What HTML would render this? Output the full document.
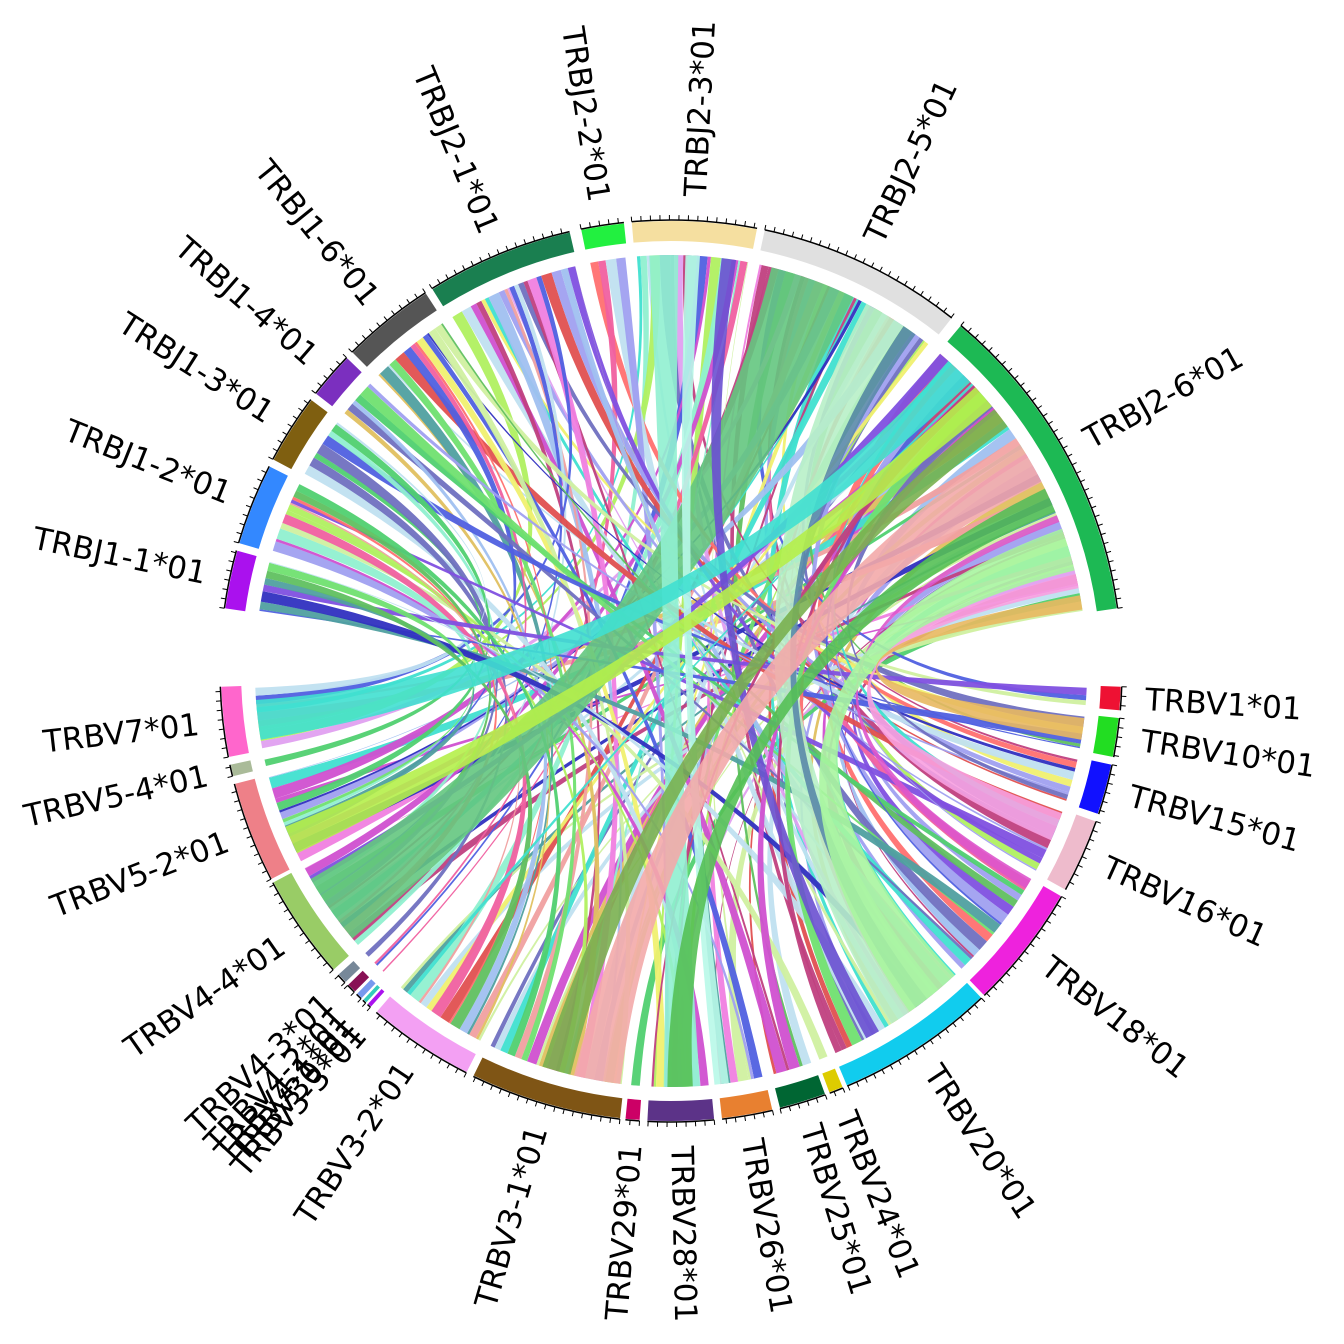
<!DOCTYPE html>
<html><head><meta charset="utf-8"><style>
html,body{margin:0;padding:0;background:#fff;}
svg{display:block;}
text{font-family:"DejaVu Sans","Liberation Sans",sans-serif;font-size:31px;fill:#000;dominant-baseline:central;}
</style></head><body>
<svg id="s" width="1344" height="1344" viewBox="0 0 1344 1344" xmlns="http://www.w3.org/2000/svg">
<g id="rib"></g><g id="seg"></g>
<g id="lab">
<text x="1146" y="671" transform="rotate(-29,671,671)">TRBJ2-6*01</text>
<text x="1146" y="671" transform="rotate(-64.75,671,671)">TRBJ2-5*01</text>
<text x="1146" y="671" transform="rotate(-87,671,671)">TRBJ2-3*01</text>
<text x="196" y="671" text-anchor="end" transform="rotate(81.25,671,671)">TRBJ2-2*01</text>
<text x="196" y="671" text-anchor="end" transform="rotate(67.5,671,671)">TRBJ2-1*01</text>
<text x="196" y="671" text-anchor="end" transform="rotate(51,671,671)">TRBJ1-6*01</text>
<text x="196" y="671" text-anchor="end" transform="rotate(41,671,671)">TRBJ1-4*01</text>
<text x="196" y="671" text-anchor="end" transform="rotate(32.5,671,671)">TRBJ1-3*01</text>
<text x="196" y="671" text-anchor="end" transform="rotate(21.75,671,671)">TRBJ1-2*01</text>
<text x="196" y="671" text-anchor="end" transform="rotate(11.75,671,671)">TRBJ1-1*01</text>
<text x="196" y="671" text-anchor="end" transform="rotate(-6.5,671,671)">TRBV7*01</text>
<text x="196" y="671" text-anchor="end" transform="rotate(-12.75,671,671)">TRBV5-4*01</text>
<text x="196" y="671" text-anchor="end" transform="rotate(-21,671,671)">TRBV5-2*01</text>
<text x="196" y="671" text-anchor="end" transform="rotate(-35,671,671)">TRBV4-4*01</text>
<text x="196" y="671" text-anchor="end" transform="rotate(-43.75,671,671)">TRBV4-3*01</text>
<text x="196" y="671" text-anchor="end" transform="rotate(-46,671,671)">TRBV4-2*01</text>
<text x="196" y="671" text-anchor="end" transform="rotate(-47.25,671,671)">TRBV4-1*01</text>
<text x="196" y="671" text-anchor="end" transform="rotate(-48.25,671,671)">TRBV30*01</text>
<text x="196" y="671" text-anchor="end" transform="rotate(-49.2,671,671)">TRBV3-3*01</text>
<text x="196" y="671" text-anchor="end" transform="rotate(-56.25,671,671)">TRBV3-2*01</text>
<text x="196" y="671" text-anchor="end" transform="rotate(-73.75,671,671)">TRBV3-1*01</text>
<text x="196" y="671" text-anchor="end" transform="rotate(-85.25,671,671)">TRBV29*01</text>
<text x="1146" y="671" transform="rotate(88.75,671,671)">TRBV28*01</text>
<text x="1146" y="671" transform="rotate(80.25,671,671)">TRBV26*01</text>
<text x="1146" y="671" transform="rotate(73,671,671)">TRBV25*01</text>
<text x="1146" y="671" transform="rotate(68.5,671,671)">TRBV24*01</text>
<text x="1146" y="671" transform="rotate(56.75,671,671)">TRBV20*01</text>
<text x="1146" y="671" transform="rotate(38,671,671)">TRBV18*01</text>
<text x="1146" y="671" transform="rotate(24.25,671,671)">TRBV16*01</text>
<text x="1146" y="671" transform="rotate(15.25,671,671)">TRBV15*01</text>
<text x="1146" y="671" transform="rotate(8.5,671,671)">TRBV10*01</text>
<text x="1146" y="671" transform="rotate(3.5,671,671)">TRBV1*01</text>
</g>
</svg>
<script>
(function(){
var CX=671,CY=671,RO=450,RI=430,RR=416;
var J=[[-50,-8,"#1db954"],[-78,-51.5,"#e0e0e0"],[-95,-79,"#f5dfa0"],[-101.5,-96,"#22f040"],[-122,-103,"#1a7f50"],[-135,-123,"#555555"],[-142,-136,"#7b2fbf"],[-152,-143,"#7f5f10"],[-163.5,-153,"#3388ff"],[-172,-164.5,"#aa11ee"]];
var V=[[169,178,"#ff66cc"],[166.5,168,"#aabb99"],[152.5,165.5,"#ee8088"],[138.5,152,"#99cc66"],[136.3,137.6,"#778899"],[134.6,135.8,"#881155"],[133.4,134.2,"#7799ee"],[132.6,133.1,"#33ccbb"],[131.8,132.3,"#aa11ee"],[117,130.8,"#f3a0f3"],[96.5,116,"#7f5515"],[94,95.8,"#cc0066"],[84.5,93,"#5c3388"],[77,83.5,"#e88030"],[70,76,"#006633"],[67.6,69.4,"#ddcc00"],[46.5,67,"#11ccee"],[30,46,"#ee22dd"],[19.5,29,"#eebbcc"],[12,18.5,"#1111ff"],[6,11,"#22dd22"],[2,5,"#ee1133"]];
function p(r,a){a=a*Math.PI/180;return (CX+r*Math.cos(a)).toFixed(1)+","+(CY+r*Math.sin(a)).toFixed(1);}
var ns="http://www.w3.org/2000/svg";
function el(g,t,at){var e=document.createElementNS(ns,t);for(var k in at)e.setAttribute(k,at[k]);g.appendChild(e);return e;}
var seg=document.getElementById("seg"),rib=document.getElementById("rib");
J.concat(V).forEach(function(s){
 var a=s[0],b=s[1],lg=(b-a)>180?1:0;
 el(seg,"path",{d:"M"+p(RO,a)+"A"+RO+","+RO+" 0 "+lg+" 1 "+p(RO,b)+"L"+p(RI,b)+"A"+RI+","+RI+" 0 "+lg+" 0 "+p(RI,a)+"Z",fill:s[2]});
 el(seg,"path",{d:"M"+p(RO+1,a)+"A"+(RO+1)+","+(RO+1)+" 0 "+lg+" 1 "+p(RO+1,b),fill:"none",stroke:"#000","stroke-width":1.5});
 for(var t=a;t<=b+0.01;t+=1.2){el(seg,"line",{x1:p(RO+1,t).split(",")[0],y1:p(RO+1,t).split(",")[1],x2:p(RO+6,t).split(",")[0],y2:p(RO+6,t).split(",")[1],stroke:"#000","stroke-width":1});}
});
function ribbon(a1,a2,b1,b2,c,op){
 var d="M"+p(RR,a1)+"A"+RR+","+RR+" 0 0 1 "+p(RR,a2)+"Q"+CX+","+CY+" "+p(RR,b1)+"A"+RR+","+RR+" 0 0 1 "+p(RR,b2)+"Q"+CX+","+CY+" "+p(RR,a1)+"Z";
 el(rib,"path",{d:d,fill:c,"fill-opacity":op});
}
var seed=12345;function rnd(){seed|=0;seed=seed+0x6D2B79F5|0;var t=Math.imul(seed^seed>>>15,1|seed);t=t+Math.imul(t^t>>>7,61|t)^t;return((t^t>>>14)>>>0)/4294967296;}
var pal=["#e05050","#5060e0","#d050d0","#50d070","#90f0d0","#f0a0a0","#a0c0f0","#f080e0","#60c060","#e0c060","#8050e0","#40e0d0","#b0f060","#c04080","#50a0a0","#ff7070","#a0a0f0","#d0f0a0","#7070c0","#f0f070","#e0a0f0","#3030c0","#c0e0f0","#f060a0","#70e070"];
function chunks(list){var out=[];list.forEach(function(s){var a=s[0]+0.3,b=s[1]-0.3;while(a<b){var w=0.25+rnd()*1.3;if(a+w>b)w=b-a;out.push([a,a+w]);a+=w;}});return out;}
var jc=chunks(J),vc=chunks(V);
for(var i=vc.length-1;i>0;i--){var k=Math.floor(rnd()*(i+1));var tmp=vc[i];vc[i]=vc[k];vc[k]=tmp;}
var n=Math.max(jc.length,vc.length);
for(var i=0;i<n;i++){var x=jc[i%jc.length],y=vc[i%vc.length];ribbon(x[0],x[1],y[0],y[1],pal[Math.floor(rnd()*pal.length)],0.95);}
var M=[[-76,-64,140,150,"#64c67f"],[-62,-56,50,58,"#b8f0c8"],[-56,-54,52,54,"#5a8aaa"],[-93,-89,86,91,"#90f0d0"],[-88,-86,82,84,"#b8f8e8"],[-83,-81,60,62,"#6a50d0"],
[-48,-44,170.5,176,"#40e0d0"],[-43,-39.5,154,158,"#b5f04a"],[-39,-36,104,108,"#7ab050"],[-34,-27,97,103.5,"#f3aaaa"],[-26,-22.5,87,90.5,"#55c055"],[-22,-21,30,31.5,"#dd55cc"],
[-20,-14,47,55,"#a8f5a0"],[-13.5,-11.5,20,24,"#f8a0e0"],[-10.5,-8.5,6.5,9.5,"#e8b860"]];
M.forEach(function(m){ribbon(m[0],m[1],m[2],m[3],m[4],0.9);});
})();
</script>
</body></html>
